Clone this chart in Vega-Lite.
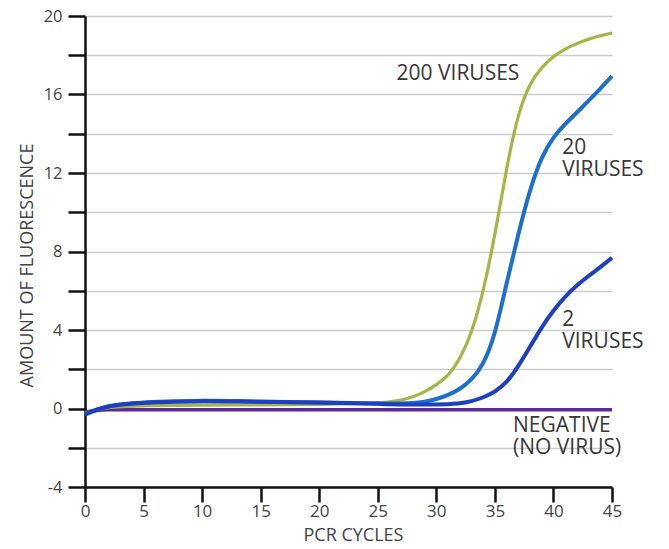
{
  "$schema": "https://vega.github.io/schema/vega-lite/v6.json",
  "width": 527,
  "height": 471,
  "autosize": {"type": "none"},
  "padding": {"left": 85, "top": 16, "right": 57, "bottom": 62},
  "background": "white",
  "config": {"view": {"stroke": null}, "font": "Open Sans"},
  "datasets": {
    "curves": [
      {"series": "NEGATIVE", "cycle": 0, "value": -0.2},
      {"series": "NEGATIVE", "cycle": 1, "value": -0.1},
      {"series": "NEGATIVE", "cycle": 2, "value": -0.07},
      {"series": "NEGATIVE", "cycle": 10, "value": -0.07},
      {"series": "NEGATIVE", "cycle": 20, "value": -0.07},
      {"series": "NEGATIVE", "cycle": 30, "value": -0.07},
      {"series": "NEGATIVE", "cycle": 45, "value": -0.07},

      {"series": "200", "cycle": 0, "value": -0.25},
      {"series": "200", "cycle": 1, "value": -0.05},
      {"series": "200", "cycle": 2, "value": 0.05},
      {"series": "200", "cycle": 3, "value": 0.1},
      {"series": "200", "cycle": 5, "value": 0.15},
      {"series": "200", "cycle": 10, "value": 0.18},
      {"series": "200", "cycle": 15, "value": 0.18},
      {"series": "200", "cycle": 20, "value": 0.2},
      {"series": "200", "cycle": 24, "value": 0.25},
      {"series": "200", "cycle": 26, "value": 0.33},
      {"series": "200", "cycle": 27, "value": 0.42},
      {"series": "200", "cycle": 28, "value": 0.58},
      {"series": "200", "cycle": 29, "value": 0.85},
      {"series": "200", "cycle": 30, "value": 1.2},
      {"series": "200", "cycle": 31, "value": 1.65},
      {"series": "200", "cycle": 32, "value": 2.5},
      {"series": "200", "cycle": 33, "value": 3.8},
      {"series": "200", "cycle": 34, "value": 5.9},
      {"series": "200", "cycle": 35, "value": 8.8},
      {"series": "200", "cycle": 36, "value": 12.3},
      {"series": "200", "cycle": 37, "value": 15.1},
      {"series": "200", "cycle": 38, "value": 16.6},
      {"series": "200", "cycle": 39, "value": 17.4},
      {"series": "200", "cycle": 40, "value": 17.95},
      {"series": "200", "cycle": 41, "value": 18.33},
      {"series": "200", "cycle": 42, "value": 18.6},
      {"series": "200", "cycle": 43, "value": 18.82},
      {"series": "200", "cycle": 44, "value": 19.0},
      {"series": "200", "cycle": 45, "value": 19.13},

      {"series": "20", "cycle": 0, "value": -0.3},
      {"series": "20", "cycle": 1, "value": -0.05},
      {"series": "20", "cycle": 2, "value": 0.12},
      {"series": "20", "cycle": 3, "value": 0.22},
      {"series": "20", "cycle": 5, "value": 0.32},
      {"series": "20", "cycle": 8, "value": 0.37},
      {"series": "20", "cycle": 10, "value": 0.4},
      {"series": "20", "cycle": 13, "value": 0.38},
      {"series": "20", "cycle": 16, "value": 0.34},
      {"series": "20", "cycle": 20, "value": 0.3},
      {"series": "20", "cycle": 23, "value": 0.28},
      {"series": "20", "cycle": 25, "value": 0.25},
      {"series": "20", "cycle": 27, "value": 0.25},
      {"series": "20", "cycle": 28, "value": 0.27},
      {"series": "20", "cycle": 29, "value": 0.34},
      {"series": "20", "cycle": 30, "value": 0.47},
      {"series": "20", "cycle": 31, "value": 0.68},
      {"series": "20", "cycle": 32, "value": 0.98},
      {"series": "20", "cycle": 33, "value": 1.45},
      {"series": "20", "cycle": 34, "value": 2.2},
      {"series": "20", "cycle": 35, "value": 3.7},
      {"series": "20", "cycle": 36, "value": 6.4},
      {"series": "20", "cycle": 37, "value": 8.9},
      {"series": "20", "cycle": 38, "value": 11.2},
      {"series": "20", "cycle": 39, "value": 12.85},
      {"series": "20", "cycle": 40, "value": 13.85},
      {"series": "20", "cycle": 41, "value": 14.5},
      {"series": "20", "cycle": 42, "value": 15.08},
      {"series": "20", "cycle": 43, "value": 15.68},
      {"series": "20", "cycle": 44, "value": 16.3},
      {"series": "20", "cycle": 45, "value": 16.94},

      {"series": "2", "cycle": 0, "value": -0.3},
      {"series": "2", "cycle": 1, "value": -0.05},
      {"series": "2", "cycle": 2, "value": 0.12},
      {"series": "2", "cycle": 3, "value": 0.2},
      {"series": "2", "cycle": 5, "value": 0.3},
      {"series": "2", "cycle": 8, "value": 0.35},
      {"series": "2", "cycle": 10, "value": 0.38},
      {"series": "2", "cycle": 13, "value": 0.36},
      {"series": "2", "cycle": 16, "value": 0.33},
      {"series": "2", "cycle": 20, "value": 0.3},
      {"series": "2", "cycle": 23, "value": 0.27},
      {"series": "2", "cycle": 25, "value": 0.24},
      {"series": "2", "cycle": 27, "value": 0.2},
      {"series": "2", "cycle": 30, "value": 0.2},
      {"series": "2", "cycle": 32, "value": 0.25},
      {"series": "2", "cycle": 33, "value": 0.36},
      {"series": "2", "cycle": 34, "value": 0.56},
      {"series": "2", "cycle": 35, "value": 0.84},
      {"series": "2", "cycle": 36, "value": 1.3},
      {"series": "2", "cycle": 37, "value": 2.15},
      {"series": "2", "cycle": 38, "value": 3.15},
      {"series": "2", "cycle": 39, "value": 4.15},
      {"series": "2", "cycle": 40, "value": 5.0},
      {"series": "2", "cycle": 41, "value": 5.72},
      {"series": "2", "cycle": 42, "value": 6.28},
      {"series": "2", "cycle": 43, "value": 6.76},
      {"series": "2", "cycle": 44, "value": 7.2},
      {"series": "2", "cycle": 45, "value": 7.68}
    ],
    "labels": [
      {"cycle": 26.6, "value": 16.74, "label": "200 VIRUSES"},
      {"cycle": 40.75, "value": 12.95, "label": "20\nVIRUSES"},
      {"cycle": 40.75, "value": 4.2, "label": "2\nVIRUSES"},
      {"cycle": 36.55, "value": -1.18, "label": "NEGATIVE\n(NO VIRUS)"}
    ]
  },
  "encoding": {
    "x": {
      "field": "cycle", "type": "quantitative",
      "scale": {"domain": [0, 45], "nice": false, "zero": false},
      "axis": {
        "values": [0, 5, 10, 15, 20, 25, 30, 35, 40, 45],
        "title": "PCR CYCLES",
        "grid": false,
        "domainColor": "#111111", "domainWidth": 2.5,
        "tickColor": "#111111", "tickWidth": 2.5, "tickSize": 15,
        "labelPadding": 1, "labelFontSize": 17, "labelColor": "#444444", "labelFont": "Open Sans",
        "labelFlush": false,
        "titleFont": "Open Sans", "titleFontSize": 18, "titleColor": "#444444", "titleFontWeight": "normal",
        "titleX": 268, "titleY": 48, "titleBaseline": "middle", "titleAlign": "center"
      }
    },
    "y": {
      "field": "value", "type": "quantitative",
      "scale": {"domain": [-4, 20], "nice": false, "zero": false},
      "axis": {
        "values": [-4, -2, 0, 2, 4, 6, 8, 10, 12, 14, 16, 18, 20],
        "labelExpr": "datum.value % 4 === 0 ? '' + datum.value : ''",
        "title": "AMOUNT OF FLUORESCENCE",
        "grid": true, "gridColor": "#cccccc", "gridWidth": 1.5,
        "domainColor": "#111111", "domainWidth": 2.5,
        "tickColor": "#111111", "tickWidth": 2.5, "tickSize": 17,
        "labelPadding": 6, "labelFontSize": 16.5, "labelColor": "#444444", "labelFont": "Open Sans",
        "labelFlush": false,
        "titleFont": "Open Sans", "titleFontSize": 18, "titleColor": "#444444", "titleFontWeight": "normal",
        "titleX": -58, "titleY": 249, "titleAngle": -90, "titleBaseline": "middle", "titleAlign": "center"
      }
    }
  },
  "layer": [
    {
      "data": {"name": "curves"},
      "transform": [{"filter": "datum.series === 'NEGATIVE'"}],
      "mark": {"type": "line", "color": "#5a2a98", "strokeWidth": 3.5, "interpolate": "monotone"}
    },
    {
      "data": {"name": "curves"},
      "transform": [{"filter": "datum.series === '200'"}],
      "mark": {"type": "line", "color": "#a6b545", "strokeWidth": 3.2, "interpolate": "basis"}
    },
    {
      "data": {"name": "curves"},
      "transform": [{"filter": "datum.series === '20'"}],
      "mark": {"type": "line", "color": "#1c6fcb", "strokeWidth": 4, "interpolate": "basis"}
    },
    {
      "data": {"name": "curves"},
      "transform": [{"filter": "datum.series === '2'"}],
      "mark": {"type": "line", "color": "#1d3fc2", "strokeWidth": 4, "interpolate": "basis"}
    },
    {
      "data": {"name": "labels"},
      "mark": {"type": "text", "align": "left", "baseline": "alphabetic", "fontSize": 21, "lineBreak": "\n", "lineHeight": 22, "color": "#383838", "font": "Open Sans"},
      "encoding": {
        "text": {"field": "label", "type": "nominal"}
      }
    }
  ]
}
